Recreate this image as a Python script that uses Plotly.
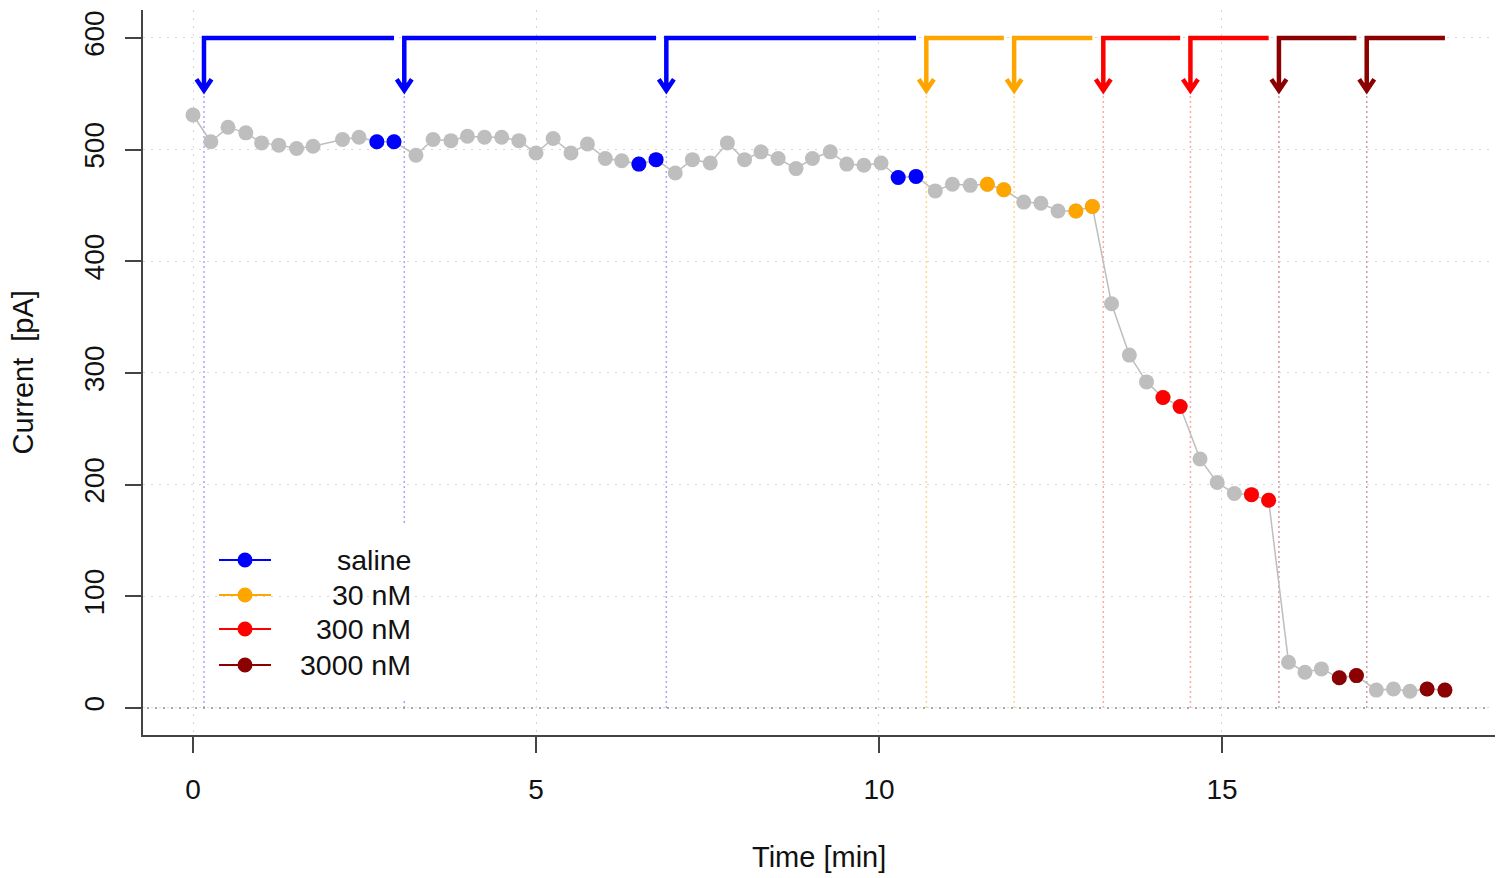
import plotly.graph_objects as go

# ---------------- data ----------------
time_min = [0.00, 0.26, 0.51, 0.77, 1.00, 1.25, 1.51, 1.75, 2.18, 2.42,
            2.68, 2.93, 3.25, 3.50, 3.76, 4.00, 4.25, 4.50, 4.75, 5.00,
            5.25, 5.51, 5.75, 6.01, 6.25, 6.50, 6.75, 7.03, 7.28, 7.54,
            7.79, 8.04, 8.28, 8.53, 8.79, 9.03, 9.29, 9.53, 9.78, 10.03,
            10.28, 10.54, 10.82, 11.07, 11.33, 11.58, 11.82, 12.11, 12.36, 12.61,
            12.87, 13.11, 13.39, 13.65, 13.90, 14.14, 14.39, 14.68, 14.93, 15.18,
            15.43, 15.68, 15.97, 16.21, 16.45, 16.71, 16.96, 17.25, 17.50, 17.74,
            17.99, 18.25]

current_pA = [531, 507, 520, 515, 506, 504, 501, 503, 509, 511,
              507, 507, 495, 509, 508, 512, 511, 511, 508, 497,
              510, 497, 505, 492, 490, 487, 491, 479, 491, 488,
              506, 491, 498, 492, 483, 492, 498, 487, 486, 488,
              475, 476, 463, 469, 468, 469, 464, 453, 452, 445,
              445, 449, 362, 316, 292, 278, 270, 223, 202, 192,
              191, 186, 41, 32, 35, 27, 29, 16, 17, 15,
              17, 16]

condition = (["-"] * 10 + ["saline"] * 2 + ["-"] * 13 + ["saline"] * 2 +
             ["-"] * 13 + ["saline"] * 2 + ["-"] * 3 + ["30 nM"] * 2 +
             ["-"] * 3 + ["30 nM"] * 2 + ["-"] * 3 + ["300 nM"] * 2 +
             ["-"] * 3 + ["300 nM"] * 2 + ["-"] * 3 + ["3000 nM"] * 2 +
             ["-"] * 3 + ["3000 nM"] * 2)

cond_names = ["saline", "30 nM", "300 nM", "3000 nM"]
cond_colors = ["#0000FF", "#FFA500", "#FF0000", "#8B0000"]
cond_faint = ["rgba(0,0,255,0.35)", "rgba(255,165,0,0.45)",
              "rgba(255,0,0,0.35)", "rgba(139,0,0,0.40)"]

# drug applications: start time, condition, end of bracket
app_times = [0.16, 3.08, 6.90, 10.69, 11.97, 13.27, 14.54, 15.83, 17.11]
app_cond = ["saline", "saline", "saline", "30 nM", "30 nM",
            "300 nM", "300 nM", "3000 nM", "3000 nM"]
app_end = [2.93, 6.75, 10.54, 11.82, 13.11, 14.39, 15.68, 16.96, 18.25]

x_ticks = [0, 5, 10, 15]
y_ticks = [0, 100, 200, 300, 400, 500, 600]
x_title = "Time [min]"
y_title = "Current\u00a0 [pA]"

# ---------------- layout geometry ----------------
W, H = 1506, 878
ML, MR, MT, MB = 143, 11, 10, 143
PW, PH = W - ML - MR, H - MT - MB
XR = [-0.729, 18.98]
YR = [-24.2, 625]
FONT = "Liberation Sans, Arial, Helvetica, sans-serif"
FS_TICK = 28
FS_TITLE = 29
FS_LEG = 28.5
GRAY = "#BEBEBE"
AXC = "#444444"


def px_x(p):
    return (p - ML) / PW


def px_y(p):
    return (H - MB - p) / PH


def dx_x(p):
    return XR[0] + px_x(p) * (XR[1] - XR[0])


def dy_y(p):
    return YR[0] + px_y(p) * (YR[1] - YR[0])


fig = go.Figure()

# gray connecting line + gray points
fig.add_trace(go.Scatter(
    x=time_min, y=current_pA, mode="lines+markers",
    line=dict(color=GRAY, width=1.5),
    marker=dict(color=GRAY, size=15, line=dict(width=0)),
    showlegend=False, hoverinfo="x+y"))

# coloured points
for name, col in zip(cond_names, cond_colors):
    xs = [t for t, c in zip(time_min, condition) if c == name]
    ys = [v for v, c in zip(current_pA, condition) if c == name]
    fig.add_trace(go.Scatter(
        x=xs, y=ys, mode="markers", name=name,
        marker=dict(color=col, size=15, line=dict(width=0)),
        showlegend=False))

shapes = []

# faint vertical dotted lines at applications
Y_TOP, Y_TIP, Y_ARM, DX = 600, 553, 563, 0.11
for t, c in zip(app_times, app_cond):
    k = cond_names.index(c)
    shapes.append(dict(type="line", xref="x", yref="y", x0=t, x1=t, y0=0, y1=Y_TIP,
                       line=dict(color=cond_faint[k], width=1.5, dash="2px,3px"),
                       layer="below"))

# zero line
shapes.append(dict(type="line", xref="x", yref="y", x0=dx_x(147), x1=dx_x(1491), y0=0, y1=0,
                   line=dict(color="#8A8A8A", width=1.5, dash="2px,6px"), layer="below"))

# legend background box (data-referenced so it sits above grid / guide lines)
shapes.append(dict(type="rect", xref="x", yref="y",
                   x0=dx_x(208), x1=dx_x(425),
                   y0=dy_y(700), y1=dy_y(523),
                   fillcolor="white", line=dict(width=0), layer="below"))

# application brackets with arrows
for t, c, e in zip(app_times, app_cond, app_end):
    k = cond_names.index(c)
    path = (f"M {e},{Y_TOP} L {t},{Y_TOP} L {t},{Y_TIP} "
            f"M {t - DX},{Y_ARM} L {t},{Y_TIP} L {t + DX},{Y_ARM}")
    shapes.append(dict(type="path", xref="x", yref="y", path=path,
                       line=dict(color=cond_colors[k], width=4.5), layer="above"))

# manual legend
annotations = []
row_y = [560, 595, 629, 665]
for name, col, ry in zip(cond_names, cond_colors, row_y):
    yy = px_y(ry)
    shapes.append(dict(type="line", xref="paper", yref="paper",
                       x0=px_x(219), x1=px_x(271), y0=yy, y1=yy,
                       line=dict(color=col, width=2), layer="above"))
    shapes.append(dict(type="circle", xref="paper", yref="paper",
                       xsizemode="pixel", ysizemode="pixel",
                       xanchor=px_x(245), yanchor=yy,
                       x0=-7.5, x1=7.5, y0=-7.5, y1=7.5,
                       fillcolor=col, line=dict(width=0), layer="above"))
    annotations.append(dict(xref="paper", yref="paper", x=px_x(413), y=yy,
                            xanchor="right", yanchor="middle", showarrow=False,
                            text=name, font=dict(family=FONT, size=FS_LEG, color="#111")))

# axis titles
annotations.append(dict(xref="paper", yref="paper", x=0.5, y=0,
                        yshift=-(857 - (H - MB)), xanchor="center", yanchor="middle",
                        showarrow=False, text=x_title,
                        font=dict(family=FONT, size=FS_TITLE, color="#111")))
annotations.append(dict(xref="paper", yref="paper", x=0, y=0.5,
                        xshift=-(ML - 22), xanchor="center", yanchor="middle",
                        textangle=-90, showarrow=False, text=y_title,
                        font=dict(family=FONT, size=FS_TITLE, color="#111")))

fig.update_layout(
    width=W, height=H, autosize=False,
    margin=dict(l=ML, r=MR, t=MT, b=MB, pad=0),
    paper_bgcolor="white", plot_bgcolor="white",
    font=dict(family=FONT, size=FS_TICK, color="#111"),
    shapes=shapes, annotations=annotations, showlegend=False,
)

fig.update_xaxes(
    range=XR, tickvals=x_ticks, ticktext=[str(v) for v in x_ticks],
    showline=True, linecolor=AXC, linewidth=1.5, mirror=False,
    ticks="outside", ticklen=16, tickwidth=1.5, tickcolor=AXC,
    ticklabelstandoff=13,
    showgrid=True, gridcolor="#D6D6D6", gridwidth=1, griddash="2px,6px",
    zeroline=False, tickfont=dict(family=FONT, size=FS_TICK, color="#111"))

fig.update_yaxes(
    range=YR, tickvals=y_ticks, ticktext=[str(v) for v in y_ticks],
    showline=True, linecolor=AXC, linewidth=1.5, mirror=False,
    ticks="outside", ticklen=16, tickwidth=1.5, tickcolor=AXC, tickangle=-90,
    ticklabelstandoff=10,
    showgrid=True, gridcolor="#D6D6D6", gridwidth=1, griddash="2px,6px",
    zeroline=False, tickfont=dict(family=FONT, size=FS_TICK, color="#111"))

fig.write_html("out.html", config={"displayModeBar": False},
               post_script="document.body.style.margin='0';")
